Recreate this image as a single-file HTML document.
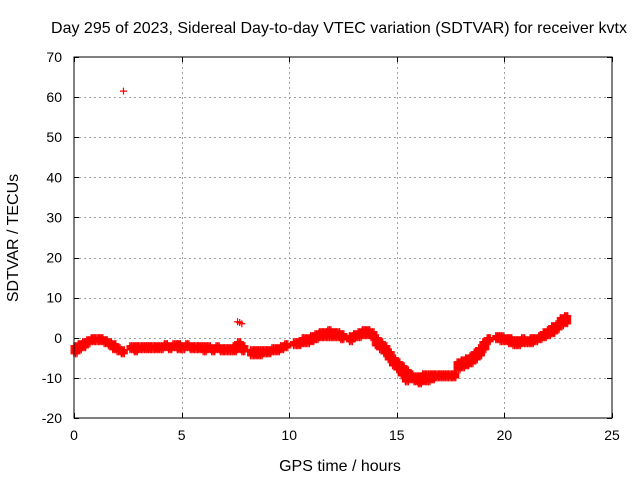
<!DOCTYPE html>
<html><head><meta charset="utf-8"><style>
body{margin:0;background:#fff}
svg{display:block;font-family:"Liberation Sans",Arial,sans-serif}
</style></head><body>
<svg id="chart" width="640" height="480">
<rect width="640" height="480" fill="#fff"/>
<text x="339" y="33" font-size="16" text-anchor="middle">Day 295 of 2023, Sidereal Day-to-day VTEC variation (SDTVAR) for receiver kvtx</text>
<text x="340" y="471" font-size="16" text-anchor="middle">GPS time / hours</text>
<text transform="translate(18,238) rotate(-90)" font-size="16" text-anchor="middle">SDTVAR / TECUs</text>
<g id="grid"></g>
<g id="ticks"></g>
<g id="marks"></g>
<rect x="74" y="57" width="538" height="361" fill="none" stroke="#000" stroke-width="1"/>
</svg>
<script>
const xTicks=[0,5,10,15,20,25];
const yTicks=[-20,-10,0,10,20,30,40,50,60,70];
const times=[0,0.2,0.4,0.6,0.8,1.0,1.2,1.4,1.6,1.8,2.0,2.2,2.6,2.8,3.0,3.2,3.4,3.6,3.8,4.0,4.2,4.4,4.6,4.8,5.0,5.2,5.4,5.6,5.8,6.0,6.2,6.4,6.6,6.8,7.0,7.2,7.4,7.6,7.8,8.2,8.4,8.6,8.8,9.0,9.2,9.4,9.6,9.8,10.2,10.4,10.6,10.8,11.0,11.2,11.4,11.6,11.8,12.0,12.2,12.4,12.8,13.0,13.2,13.4,13.6,13.8,14.0,14.2,14.4,14.6,14.8,15.0,15.2,15.4,15.6,15.8,16.0,16.2,16.4,16.6,16.8,17.0,17.2,17.4,17.6,17.8,18.0,18.2,18.4,18.6,18.8,19.0,19.2,19.6,19.8,20.0,20.2,20.4,20.6,20.8,21.0,21.2,21.4,21.6,21.8,22.0,22.2,22.4,22.6,22.8];
const lows=[-4,-3,-2.5,-1.5,-1,-1,-1,-1.5,-2,-3,-3.5,-4,-3,-3.5,-3,-3,-3,-3,-3,-3,-2.5,-3,-2.5,-3,-3,-2.5,-3,-3,-3,-3.5,-3,-3.5,-3,-3.5,-3.5,-3.5,-3.5,-3,-3.5,-4.5,-4.5,-4.5,-4,-4,-3.5,-3.5,-3,-2.5,-2,-2,-1.5,-1.5,-1,-0.5,0,0,0,0,0,-0.5,-1,0,0,0.5,0.5,0,-2,-3,-4,-5.5,-7,-8,-9.5,-11,-10.5,-11,-11.5,-11,-11,-10.5,-10,-10,-10,-10,-10,-8,-7.5,-7,-6.5,-5.5,-4.5,-3,-1,-0.5,-1,-1,-1.5,-2,-2,-1.5,-1.5,-1.5,-1,-0.5,0,0.5,1,2,3,3.5];
const highs=[-2,-1.5,-1,-0.5,0,0,0,-0.5,-1,-1.5,-2.5,-3,-2,-2,-2,-2,-2,-2,-2,-2,-1.5,-2,-1.5,-1.5,-2,-1.5,-2,-2,-2,-2,-2,-2.5,-2,-2.5,-2.5,-2.5,-2,-1,-2,-3,-3,-3,-3,-3,-2.5,-2.5,-2,-1.5,-1,-1,0,0,0.5,1,1.5,1.5,2,1.5,1.5,1,0.5,1,1.5,2,2,1.5,0,-1,-2,-3.5,-5,-6,-7,-8,-9,-9.5,-9.5,-9,-9,-9,-9,-9,-9,-9,-9,-6,-5.5,-5,-4.5,-3.5,-2.5,-1,0,0.5,0.5,0,0,-0.5,-0.5,0,-0.5,0,0,0.5,1.5,2,3,3.5,5,5.5];
const outlierT=[2.3,7.6,7.7,7.8];
const outlierV=[61.5,4,3.8,3.5];
const X=t=>74+t*538/25;
const Y=v=>418-(v+20)*361/90;
const NS="http://www.w3.org/2000/svg";
const grid=document.getElementById('grid'),ticks=document.getElementById('ticks'),marks=document.getElementById('marks');
function ln(p,x1,y1,x2,y2,st,dash){const l=document.createElementNS(NS,'line');l.setAttribute('x1',x1);l.setAttribute('y1',y1);l.setAttribute('x2',x2);l.setAttribute('y2',y2);l.setAttribute('stroke',st);l.setAttribute('stroke-width',1);if(dash)l.setAttribute('stroke-dasharray',dash);p.appendChild(l);return l;}
function tx(p,x,y,s,anchor){const t=document.createElementNS(NS,'text');t.setAttribute('x',x);t.setAttribute('y',y);t.setAttribute('font-size',14);t.setAttribute('text-anchor',anchor);t.textContent=s;p.appendChild(t);return t;}
xTicks.forEach(v=>{const x=Math.round(X(v))+0.5;
 if(v>0&&v<25){const g=ln(grid,x,57,x,418,'#a0a0a0','2,3');}
 ln(ticks,x,418,x,413,'#000');ln(ticks,x,57,x,62,'#000');
 const t=tx(ticks,X(v),440,String(v),'middle');
 
 });
yTicks.forEach(v=>{const y=Math.round(Y(v))+0.5;
 if(v>-20&&v<70){const g=ln(grid,74,y,612,y,'#a0a0a0','2,3');}
 ln(ticks,74,y,79,y,'#000');ln(ticks,612,y,607,y,'#000');
 const t=tx(ticks,62,Y(v)+5,String(v),'end');
 
 });
function plus(t,v,dx){const g=document.createElementNS(NS,'path');const x=X(t)+(dx||0),y=Y(v);
 g.setAttribute('d',`M${x-3.5} ${y}H${x+3.5}M${x} ${y-3.5}V${y+3.5}`);g.setAttribute('stroke','#f00');g.setAttribute('stroke-width',1.2);
 
 
 marks.appendChild(g);}
times.forEach((t,i)=>{[0,1.5,3].forEach(dx=>{for(let v=lows[i];v<=highs[i]+1e-9;v+=0.25)plus(t,v,dx);plus(t,highs[i],dx);});});
outlierT.forEach((t,i)=>plus(t,outlierV[i]));
</script>
</body></html>
